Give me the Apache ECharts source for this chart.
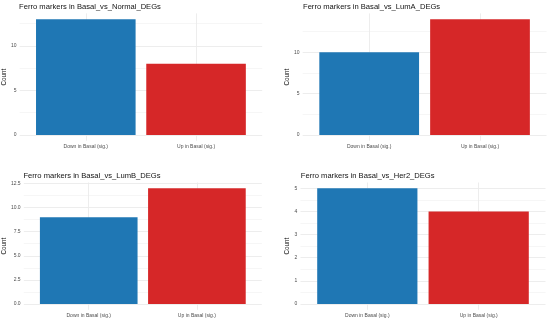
<!DOCTYPE html>
<html>
<head>
<meta charset="utf-8">
<script src="https://cdn.jsdelivr.net/npm/echarts@6/dist/echarts.min.js"></script>
<style>html,body{margin:0;padding:0;background:#fff}#c{width:550px;height:321px}</style>
</head>
<body>
<div id="c"></div>
<script>
// ---- data ----
const categories = ["Down in Basal (sig.)", "Up in Basal (sig.)"];
const titles = [
  "Ferro markers in Basal_vs_Normal_DEGs",
  "Ferro markers in Basal_vs_LumA_DEGs",
  "Ferro markers in Basal_vs_LumB_DEGs",
  "Ferro markers in Basal_vs_Her2_DEGs"
];
const countsNormal = [13, 8];
const countsLumA = [10, 14];
const countsLumB = [9, 12];
const countsHer2 = [5, 4];
const yTicksNormal = [0, 5, 10];
const yTicksLumA = [0, 5, 10];
const yTicksLumB = [0, 2.5, 5, 7.5, 10, 12.5];
const yTicksHer2 = [0, 1, 2, 3, 4, 5];
const yMinorNormal = [2.5, 7.5, 12.5];
const yMinorLumA = [2.5, 7.5, 12.5];
const yMinorLumB = [1.25, 3.75, 6.25, 8.75, 11.25];
const yMinorHer2 = [0.5, 1.5, 2.5, 3.5, 4.5];
const yDecimals = [0, 0, 1, 0];
const barColors = ["#1f77b4", "#d62728"];

// ---- layout ----
const panels = [
  {left: 18.8, width: 243.4, top: 13.4, height: 127.4, nameGap: 10.3, counts: countsNormal, ticks: yTicksNormal, minor: yMinorNormal},
  {left: 302.7, width: 243.8, top: 13.4, height: 127.4, nameGap: 9.2, counts: countsLumA, ticks: yTicksLumA, minor: yMinorLumA},
  {left: 23.1, width: 238.7, top: 182.5, height: 127.3, nameGap: 14.6, counts: countsLumB, ticks: yTicksLumB, minor: yMinorLumB},
  {left: 300.5, width: 245.0, top: 182.5, height: 127.3, nameGap: 8.7, counts: countsHer2, ticks: yTicksHer2, minor: yMinorHer2}
];

const grid = [], xAxis = [], yAxis = [], series = [], title = [];
const gridColor = "#ebebeb";
panels.forEach((p, i) => {
  grid.push({left: p.left, top: p.top, width: p.width, height: p.height, containLabel: false});
  const ymax = Math.max.apply(null, p.counts);
  const lo = -0.05 * ymax, hi = 1.05 * ymax;
  xAxis.push({
    type: 'value', gridIndex: i, min: 0.4, max: 2.6,
    axisLine: {show: false},
    axisTick: {show: false, customValues: [1, 2]},
    axisLabel: {customValues: [1, 2], formatter: v => categories[Math.round(v) - 1],
      fontSize: 5, color: '#4d4d4d', margin: 3.5, fontFamily: 'Liberation Sans'},
    splitLine: {show: true, lineStyle: {color: gridColor, width: 0.9}}
  });
  const dec = yDecimals[i];
  yAxis.push({
    type: 'value', gridIndex: i, min: lo, max: hi,
    axisLine: {show: false},
    axisTick: {show: false, customValues: p.ticks},
    axisLabel: {customValues: p.ticks, formatter: v => v.toFixed(dec),
      fontSize: 5, color: '#4d4d4d', margin: 3.2, fontFamily: 'Liberation Sans'},
    splitLine: {show: true, lineStyle: {color: gridColor, width: 0.9}},
    name: 'Count', nameLocation: 'middle', nameRotate: 90,
    nameGap: p.nameGap,
    nameTextStyle: {fontSize: 6.3, color: '#000', fontFamily: 'Liberation Sans'}
  });
  yAxis.push({
    type: 'value', gridIndex: i, min: lo, max: hi,
    axisLine: {show: false},
    axisTick: {show: false, customValues: p.minor},
    axisLabel: {show: false, customValues: p.minor},
    splitLine: {show: true, lineStyle: {color: '#f0f0f0', width: 0.6}}
  });
  series.push({
    type: 'bar', xAxisIndex: i, yAxisIndex: 2 * i,
    barWidth: 0.9 * p.width / 2.2,
    data: p.counts.map((v, k) => ({value: [k + 1, v], itemStyle: {color: barColors[k]}})),
    silent: true
  });
  title.push({
    text: titles[i], left: p.left + 0.3, top: p.top - 10.6, padding: 0,
    textStyle: {fontSize: 7.6, fontWeight: 'normal', color: '#111', fontFamily: 'Liberation Sans'}
  });
});

const chart = echarts.init(document.getElementById('c'), null, {renderer: 'canvas'});
chart.setOption({animation: false, backgroundColor: '#fff', title, grid, xAxis, yAxis, series});
</script>
</body>
</html>
